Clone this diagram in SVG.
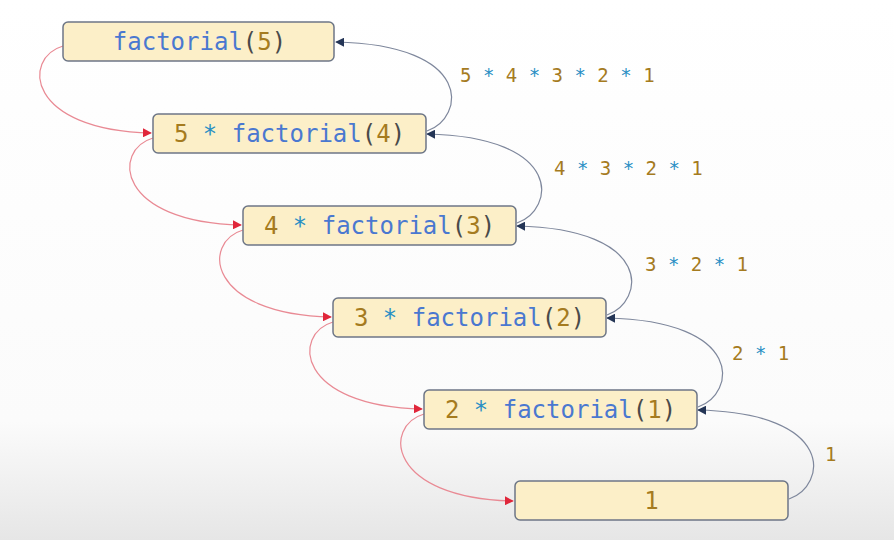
<svg xmlns="http://www.w3.org/2000/svg" width="894" height="540" viewBox="0 0 894 540">
<defs>
<linearGradient id="bg" x1="0" y1="0" x2="0" y2="1">
<stop offset="0" stop-color="#ffffff"/>
<stop offset="0.78" stop-color="#fbfbfb"/>
<stop offset="1" stop-color="#e6e6e6"/>
</linearGradient>
<marker id="ar" viewBox="0 0 10 10" refX="9" refY="5" markerWidth="9" markerHeight="9" markerUnits="userSpaceOnUse" orient="auto">
<path d="M0,0 L10,5 L0,10 Z" fill="#e0263a"/>
</marker>
<marker id="ab" viewBox="0 0 10 10" refX="9" refY="5" markerWidth="9" markerHeight="9" markerUnits="userSpaceOnUse" orient="auto">
<path d="M0,0 L10,5 L0,10 Z" fill="#243556"/>
</marker>
</defs>
<style>
.box{fill:#fcefc8;stroke:#6d7686;stroke-width:1.5}
.t{font-family:"DejaVu Sans Mono","Liberation Mono",monospace;font-size:24px;text-anchor:middle}
.l{font-family:"DejaVu Sans Mono","Liberation Mono",monospace;font-size:19px}
.f{fill:#4a78d0}
.n{fill:#a57b1f}
.s{fill:#2a8fc4}
.p{fill:#4a4a4a}
.red{fill:none;stroke:#e98a94;stroke-width:1.2;marker-end:url(#ar)}
.blu{fill:none;stroke:#7e879c;stroke-width:1.2;marker-end:url(#ab)}
</style>
<rect width="894" height="540" fill="url(#bg)"/>
<g id="connectors">
<path class="red" d="M63,46 C22,58 26,130 151,133"/>
<path class="red" d="M153,138 C112,150 116,222 241,225"/>
<path class="red" d="M243,230 C202,242 206,314 331,317"/>
<path class="red" d="M333,322 C292,334 296,406 422,409"/>
<path class="red" d="M424,414 C383,426 387,498 513,501"/>
<path class="blu" d="M427,131 C465,118 475,45 336,42"/>
<path class="blu" d="M517,223 C555,210 565,137 427,134"/>
<path class="blu" d="M607,315 C645,302 655,229 517,226"/>
<path class="blu" d="M698,407 C736,394 746,321 607,318"/>
<path class="blu" d="M789,499 C827,486 837,413 698,410"/>
<text class="l" x="460" y="82"><tspan class="n">5</tspan><tspan class="s"> * </tspan><tspan class="n">4</tspan><tspan class="s"> * </tspan><tspan class="n">3</tspan><tspan class="s"> * </tspan><tspan class="n">2</tspan><tspan class="s"> * </tspan><tspan class="n">1</tspan></text>
<text class="l" x="554" y="175"><tspan class="n">4</tspan><tspan class="s"> * </tspan><tspan class="n">3</tspan><tspan class="s"> * </tspan><tspan class="n">2</tspan><tspan class="s"> * </tspan><tspan class="n">1</tspan></text>
<text class="l" x="645" y="271"><tspan class="n">3</tspan><tspan class="s"> * </tspan><tspan class="n">2</tspan><tspan class="s"> * </tspan><tspan class="n">1</tspan></text>
<text class="l" x="732" y="360"><tspan class="n">2</tspan><tspan class="s"> * </tspan><tspan class="n">1</tspan></text>
<text class="l" x="825" y="461"><tspan class="n">1</tspan></text>
</g>
<g id="n5">
<rect class="box" x="63" y="22" width="271" height="39" rx="5"/>
<text class="t" x="199.5" y="50"><tspan class="f">factorial</tspan><tspan class="p">(</tspan><tspan class="n">5</tspan><tspan class="p">)</tspan></text>
</g>
<g id="n4">
<rect class="box" x="153" y="114" width="273" height="39" rx="5"/>
<text class="t" x="289.5" y="142"><tspan class="n">5</tspan><tspan class="s"> * </tspan><tspan class="f">factorial</tspan><tspan class="p">(</tspan><tspan class="n">4</tspan><tspan class="p">)</tspan></text>
</g>
<g id="n3">
<rect class="box" x="243" y="206" width="273" height="39" rx="5"/>
<text class="t" x="379.5" y="234"><tspan class="n">4</tspan><tspan class="s"> * </tspan><tspan class="f">factorial</tspan><tspan class="p">(</tspan><tspan class="n">3</tspan><tspan class="p">)</tspan></text>
</g>
<g id="n2">
<rect class="box" x="333" y="298" width="273" height="39" rx="5"/>
<text class="t" x="469.5" y="326"><tspan class="n">3</tspan><tspan class="s"> * </tspan><tspan class="f">factorial</tspan><tspan class="p">(</tspan><tspan class="n">2</tspan><tspan class="p">)</tspan></text>
</g>
<g id="n1">
<rect class="box" x="424" y="390" width="273" height="39" rx="5"/>
<text class="t" x="560.5" y="418"><tspan class="n">2</tspan><tspan class="s"> * </tspan><tspan class="f">factorial</tspan><tspan class="p">(</tspan><tspan class="n">1</tspan><tspan class="p">)</tspan></text>
</g>
<g id="n0">
<rect class="box" x="515" y="481" width="273" height="39" rx="5"/>
<text class="t" x="651.5" y="509"><tspan class="n">1</tspan></text>
</g>
</svg>
